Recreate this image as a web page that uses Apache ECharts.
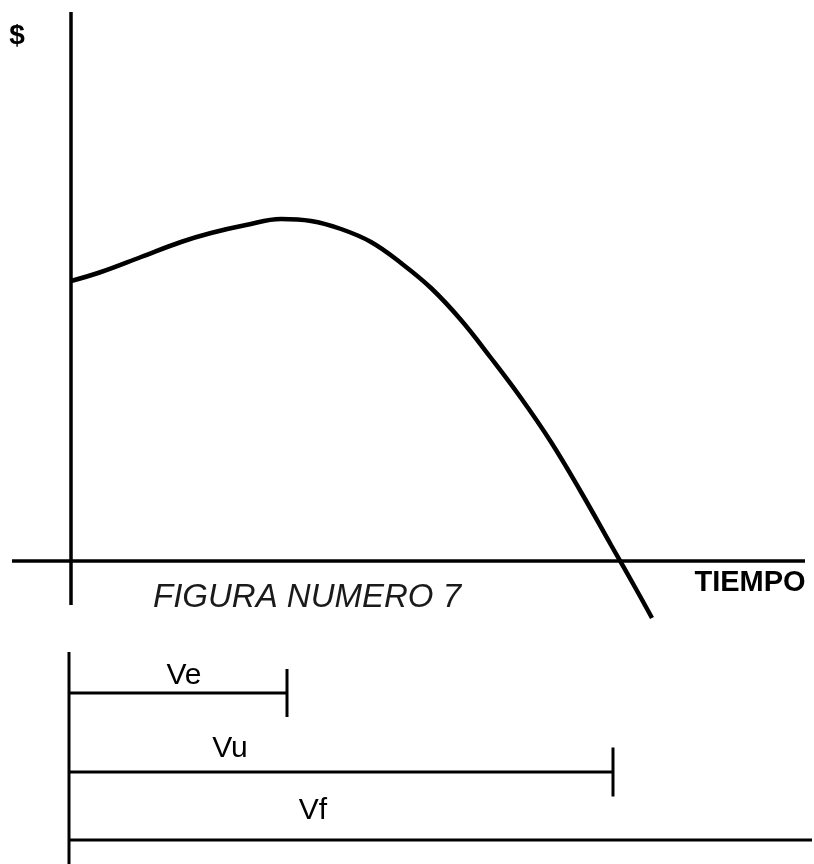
<!DOCTYPE html>
<html>
<head>
<meta charset="utf-8">
<script src="https://cdn.jsdelivr.net/npm/echarts@6/dist/echarts.min.js"></script>
<style>
html,body{margin:0;padding:0;background:#fff;}
#c{width:814px;height:864px;}
</style>
</head>
<body>
<div id="c"></div>
<script>
// Value curve ($ over TIEMPO), arbitrary units
const valueCurve = [
  [0, 28.0], [3, 28.9], [7, 30.4], [11, 31.9], [14, 32.8], [17.5, 33.6],
  [21, 34.2], [24, 34.0], [27, 33.2], [30, 31.9], [33, 29.8], [36, 27.3],
  [39, 24.1], [42, 20.3], [45, 16.3], [48, 11.9], [51, 6.9], [54, 1.6],
  [56.5, -2.8], [58.1, -5.7]
];
// Main axes extents
const valueAxisRange = [-4.4, 54.9];
const timeAxisRange = [-5.9, 73.4];
// Bottom span diagram
const spanLabels = ['Ve', 'Vu', 'Vf'];
const spanStart = -0.2;
const spanEnds = [21.6, 54.2, 74.1];
const spanLevels = [-13.2, -21.1, -27.9];
const spanTickHalf = [2.4, 2.45, 0];
const spanLabelPos = [[11.3, -11.5], [15.9, -18.8], [24.2, -25.0]];
const spanBaseRange = [-9.1, -31];
// Text annotations
const axisTitles = ['$', 'TIEMPO'];
const axisTitlePos = [[-5.4, 52.5], [67.9, -2.2]];
const captionText = 'FIGURA NUMERO 7';
const captionPos = [23.6, -3.7];

const black = '#000';
const series = [];
function seg(points, width) {
  series.push({
    type: 'line', data: points, showSymbol: false, symbol: 'none',
    lineStyle: {color: black, width: width}, silent: true, z: 2
  });
}
// axes
seg([[0, valueAxisRange[1]], [0, valueAxisRange[0]]], 3.5);
seg([[timeAxisRange[0], 0], [timeAxisRange[1], 0]], 3.5);
// curve
series.push({
  type: 'line', data: valueCurve, smooth: 0.4, showSymbol: false, symbol: 'none',
  lineStyle: {color: black, width: 4.5}, z: 3
});
// span diagram
seg([[spanStart, spanBaseRange[0]], [spanStart, spanBaseRange[1]]], 3);
spanLabels.forEach((name, i) => {
  seg([[spanStart, spanLevels[i]], [spanEnds[i], spanLevels[i]]], 3);
  if (spanTickHalf[i] > 0) {
    seg([[spanEnds[i], spanLevels[i] + spanTickHalf[i]], [spanEnds[i], spanLevels[i] - spanTickHalf[i]]], 3);
  }
});
const textBase = {type: 'scatter', symbolSize: 0, silent: true, itemStyle: {opacity: 1}};
// span labels
series.push(Object.assign({}, textBase, {
  data: spanLabels.map((t, i) => ({value: spanLabelPos[i], name: t})),
  label: {show: true, position: 'inside', formatter: p => p.name, opacity: 1,
    color: black, fontSize: 30, fontFamily: 'Liberation Sans, Arial, sans-serif', fontWeight: 'normal'}
}));
// axis titles
series.push(Object.assign({}, textBase, {
  data: [
    {value: axisTitlePos[0], name: axisTitles[0], label: {fontSize: 28}},
    {value: axisTitlePos[1], name: axisTitles[1], label: {fontSize: 29}}
  ],
  label: {show: true, position: 'inside', formatter: p => p.name, opacity: 1,
    color: black, fontFamily: 'Liberation Sans, Arial, sans-serif', fontWeight: 'bold'}
}));
// caption
series.push(Object.assign({}, textBase, {
  data: [{value: captionPos, name: captionText}],
  label: {show: true, position: 'inside', formatter: p => p.name, opacity: 1,
    color: '#1a1a1a', fontSize: 33, fontStyle: 'italic', fontWeight: 'normal',
    fontFamily: 'Liberation Sans, Arial, sans-serif'}
}));

const chart = echarts.init(document.getElementById('c'), null, {renderer: 'canvas'});
chart.setOption({
  animation: false,
  backgroundColor: '#fff',
  grid: {left: 0, right: 0, top: 0, bottom: 0, containLabel: false},
  xAxis: {type: 'value', min: -7.1, max: 74.3, show: false, splitLine: {show: false}},
  yAxis: {type: 'value', min: -30.3, max: 56.1, show: false, splitLine: {show: false}},
  series: series
});
</script>
</body>
</html>
